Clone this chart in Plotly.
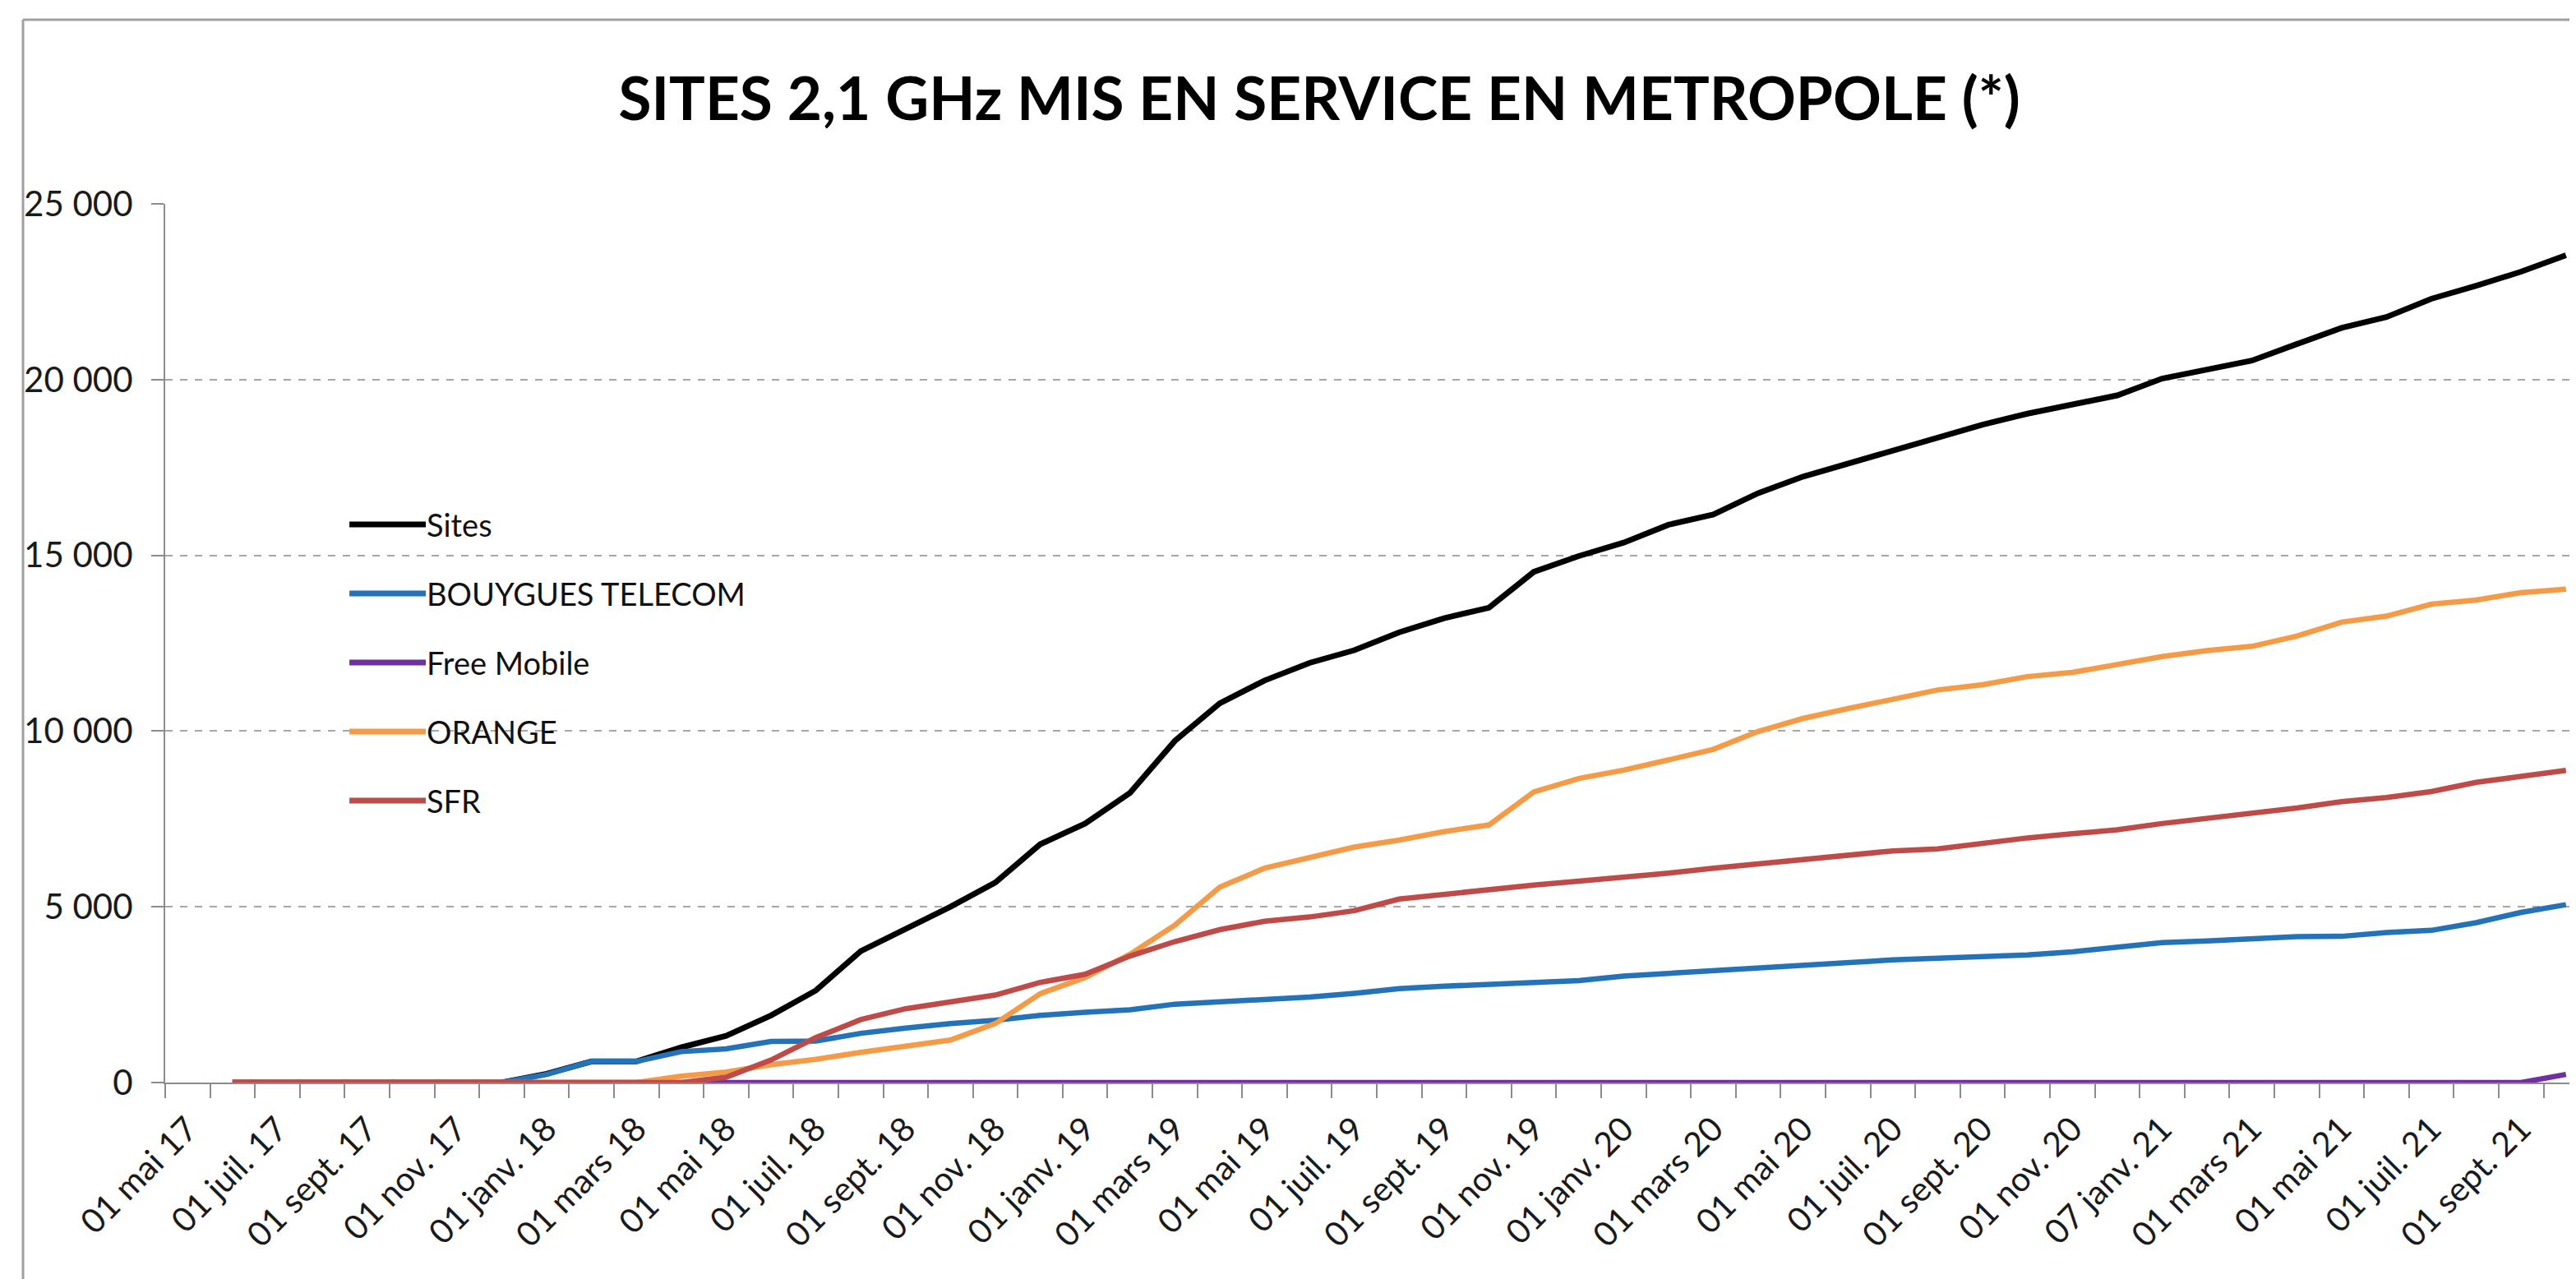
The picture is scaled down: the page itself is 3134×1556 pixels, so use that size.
import plotly.graph_objects as go

# monthly categories (Excel text axis), one label every two months
months = [
    "01 mai 17", "01 juin 17", "01 juil. 17", "01 août 17", "01 sept. 17", "01 oct. 17",
    "01 nov. 17", "01 déc. 17", "01 janv. 18", "01 févr. 18", "01 mars 18", "01 avr. 18",
    "01 mai 18", "01 juin 18", "01 juil. 18", "01 août 18", "01 sept. 18", "01 oct. 18",
    "01 nov. 18", "01 déc. 18", "01 janv. 19", "01 févr. 19", "01 mars 19", "01 avr. 19",
    "01 mai 19", "01 juin 19", "01 juil. 19", "01 août 19", "01 sept. 19", "01 oct. 19",
    "01 nov. 19", "01 déc. 19", "01 janv. 20", "01 févr. 20", "01 mars 20", "01 avr. 20",
    "01 mai 20", "01 juin 20", "01 juil. 20", "01 août 20", "01 sept. 20", "01 oct. 20",
    "01 nov. 20", "01 déc. 20", "07 janv. 21", "01 févr. 21", "01 mars 21", "01 avr. 21",
    "01 mai 21", "01 juin 21", "01 juil. 21", "01 août 21", "01 sept. 21", "01 oct. 21",
]

sites = [
    None, 0, 0, 0, 0, 0, 0, 0, 250, 600, 600, 1000,
    1330, 1910, 2620, 3740, 4370, 5000, 5690, 6780, 7370, 8240, 9720, 10790,
    11440, 11940, 12300, 12810, 13210, 13510, 14530, 14980, 15360, 15870, 16160, 16770,
    17240, 17600, 18000, 18340, 18720, 19030, 19290, 19550, 20030, 20280, 20540, 21010,
    21470, 21780, 22300, 22670, 23070, 23540,
]
bouygues = [
    None, 0, 0, 0, 0, 0, 0, 0, 230, 600, 600, 880,
    960, 1170, 1180, 1400, 1550, 1680, 1770, 1910, 2000, 2070, 2230, 2290,
    2360, 2430, 2540, 2670, 2740, 2790, 2850, 2900, 3030, 3110, 3170, 3250,
    3340, 3410, 3490, 3540, 3580, 3630, 3720, 3860, 3980, 4030, 4100, 4150,
    4160, 4270, 4330, 4550, 4840, 5060,
]
free = [None] + [0] * 52 + [230]
orange = [
    None, 0, 0, 0, 0, 0, 0, 0, 0, 0, 0, 180,
    300, 510, 660, 860, 1040, 1210, 1680, 2530, 2990, 3650, 4480, 5560,
    6100, 6390, 6700, 6900, 7140, 7330, 8270, 8650, 8890, 9180, 9480, 9990,
    10360, 10640, 10920, 11170, 11320, 11550, 11670, 11890, 12120, 12290, 12410, 12700,
    13100, 13270, 13610, 13730, 13940, 14040,
]
sfr = [
    None, 0, 0, 0, 0, 0, 0, 0, 0, 0, 0, 0,
    150, 640, 1280, 1790, 2100, 2290, 2490, 2850, 3080, 3600, 4010, 4350,
    4590, 4710, 4890, 5220, 5360, 5490, 5620, 5730, 5830, 5960, 6100, 6230,
    6360, 6480, 6590, 6650, 6820, 6960, 7080, 7190, 7370, 7510, 7640, 7810,
    7990, 8110, 8280, 8540, 8710, 8880,
]

names = ["Sites", "BOUYGUES TELECOM", "Free Mobile", "ORANGE", "SFR"]
series = [sites, bouygues, free, orange, sfr]
colors = ["#000000", "#2473B8", "#7030A0", "#F59B47", "#BE4B48"]

FONT = "Lato"
W, H = 3134, 1556
L, R, T, B = 193, 0, 240, 247
PW, PH = W - L - R, H - T - B

x = list(range(len(months)))

fig = go.Figure()
for name, ys, col in zip(names, series, colors):
    fig.add_trace(go.Scatter(
        x=x, y=ys, name=name, mode="lines",
        line=dict(color=col, width=7 if name == "Sites" else 6.5),
        showlegend=False,
    ))

# legend drawn by hand so the sample lines are as long as in Excel
leg_top, leg_step = 0.6296 + 6 / PH, 0.0786
for k, (name, col) in enumerate(zip(names, colors)):
    yk = leg_top - k * leg_step
    fig.add_shape(type="line", xref="paper", yref="paper",
                  x0=0.0762, x1=0.1078, y0=yk, y1=yk,
                  line=dict(color=col, width=7))
    fig.add_annotation(xref="paper", yref="paper", x=0.1075, y=yk,
                       text=name, showarrow=False, xanchor="left", yanchor="middle",
                       font=dict(family=FONT, size=38, color="#111111"))

# chart area border (left and top edges visible in the crop)
bx = (20 - L) / PW
by = (H - B - 16) / PH
fig.add_shape(type="line", xref="paper", yref="paper",
              x0=bx, x1=bx, y0=-B / PH, y1=by,
              line=dict(color="#A0A0A0", width=3))
fig.add_shape(type="line", xref="paper", yref="paper",
              x0=bx, x1=1.01, y0=by, y1=by,
              line=dict(color="#A0A0A0", width=3))

fig.update_layout(
    width=W, height=H,
    margin=dict(l=L, r=R, t=T, b=B),
    paper_bgcolor="white", plot_bgcolor="white",
    separators=", ",
    title=dict(
        text="SITES 2,1 GHz MIS EN SERVICE EN METROPOLE (*)",
        x=0.5096, xref="container", xanchor="center",
        y=1 - 112 / H, yref="container", yanchor="middle",
        font=dict(family=FONT, size=73, color="#000000", weight="bold"),
    ),
    font=dict(family=FONT, size=40, color="#1a1a1a"),
)

fig.update_xaxes(
    range=[-0.5, 53.37],
    tickmode="array",
    tickvals=x[::2],
    ticktext=months[::2],
    tickangle=-45,
    ticks="",
    ticklabelstandoff=14,
    tickfont=dict(family=FONT, size=41, color="#1a1a1a"),
    showgrid=False,
    zeroline=False,
    showline=True, linecolor="#8C8C8C", linewidth=2,
    minor=dict(
        tickmode="array",
        tickvals=[i - 0.5 for i in range(len(months) + 1)],
        ticks="outside", ticklen=17, tickwidth=2, tickcolor="#8C8C8C",
        showgrid=False,
    ),
)

fig.update_yaxes(
    range=[0, 25000],
    tickmode="linear", tick0=0, dtick=5000,
    tickformat=",d",
    ticks="outside", ticklen=15, tickwidth=2, tickcolor="#8C8C8C",
    ticklabelstandoff=14,
    tickfont=dict(family=FONT, size=42, color="#1a1a1a"),
    showgrid=True, gridcolor="#A6A6A6", gridwidth=2, griddash="dash",
    zeroline=False,
    showline=True, linecolor="#8C8C8C", linewidth=2,
)

fig.write_html("out.html")
